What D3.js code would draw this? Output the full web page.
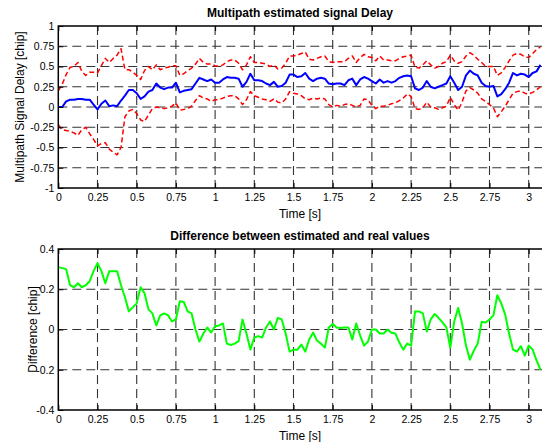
<!DOCTYPE html>
<html>
<head>
<meta charset="utf-8">
<script src="https://cdn.jsdelivr.net/npm/d3@7"></script>
<style>
body { margin: 0; background: #fff; }
svg text { font-family: "Liberation Sans", Arial, Helvetica, sans-serif; }
</style>
</head>
<body>
<div id="chart"></div>
<script>

/****** data (sampled every 0.025 s) ******/
var sampleStep = 0.025;

var delayEst = [
    0.00, 0.00, 0.07, 0.09, 0.09, 0.10, 0.10, 0.09, 0.09, 0.03,
    -0.03, 0.04, 0.08, 0.01, 0.02, 0.01, 0.08, 0.14, 0.21, 0.21,
    0.17, 0.10, 0.13, 0.19, 0.21, 0.29, 0.24, 0.22, 0.24, 0.24,
    0.30, 0.18, 0.20, 0.21, 0.22, 0.29, 0.36, 0.34, 0.32, 0.34,
    0.30, 0.30, 0.34, 0.37, 0.36, 0.36, 0.35, 0.25, 0.31, 0.41,
    0.33, 0.33, 0.32, 0.29, 0.27, 0.31, 0.25, 0.26, 0.30, 0.40,
    0.40, 0.37, 0.38, 0.42, 0.35, 0.32, 0.35, 0.36, 0.35, 0.29,
    0.28, 0.29, 0.29, 0.27, 0.33, 0.35, 0.27, 0.34, 0.37, 0.35,
    0.32, 0.29, 0.34, 0.30, 0.32, 0.30, 0.32, 0.36, 0.38, 0.39,
    0.38, 0.23, 0.21, 0.24, 0.32, 0.25, 0.23, 0.25, 0.27, 0.29,
    0.38, 0.30, 0.21, 0.25, 0.39, 0.45, 0.41, 0.39, 0.30, 0.26,
    0.25, 0.26, 0.13, 0.16, 0.22, 0.30, 0.42, 0.39, 0.41, 0.40,
    0.37, 0.42, 0.44, 0.52
];

var upperBound = [
    0.20, 0.28, 0.40, 0.49, 0.50, 0.55, 0.44, 0.39, 0.43, 0.43,
    0.42, 0.51, 0.60, 0.55, 0.60, 0.64, 0.72, 0.46, 0.46, 0.43,
    0.39, 0.34, 0.45, 0.50, 0.46, 0.52, 0.46, 0.48, 0.49, 0.51,
    0.51, 0.39, 0.41, 0.45, 0.48, 0.53, 0.60, 0.55, 0.53, 0.53,
    0.51, 0.50, 0.52, 0.56, 0.58, 0.58, 0.54, 0.46, 0.52, 0.62,
    0.55, 0.55, 0.54, 0.53, 0.50, 0.52, 0.47, 0.48, 0.54, 0.63,
    0.63, 0.64, 0.66, 0.68, 0.59, 0.58, 0.60, 0.62, 0.63, 0.56,
    0.55, 0.56, 0.56, 0.56, 0.60, 0.63, 0.55, 0.61, 0.65, 0.62,
    0.61, 0.57, 0.63, 0.58, 0.58, 0.57, 0.57, 0.60, 0.62, 0.63,
    0.64, 0.49, 0.48, 0.52, 0.57, 0.52, 0.48, 0.50, 0.54, 0.56,
    0.64, 0.57, 0.54, 0.56, 0.63, 0.67, 0.64, 0.59, 0.55, 0.50,
    0.50, 0.50, 0.39, 0.42, 0.49, 0.57, 0.64, 0.66, 0.65, 0.62,
    0.61, 0.66, 0.71, 0.74
];

var lowerBound = [
    -0.22, -0.28, -0.29, -0.30, -0.32, -0.35, -0.28, -0.25, -0.33, -0.40,
    -0.48, -0.45, -0.44, -0.52, -0.56, -0.59, -0.50, -0.12, -0.05, -0.03,
    -0.08, -0.16, -0.18, -0.10, -0.02, 0.00, -0.01, -0.02, -0.01, 0.01,
    0.05, -0.04, -0.03, -0.02, 0.01, 0.08, 0.14, 0.11, 0.10, 0.07,
    0.09, 0.09, 0.11, 0.13, 0.14, 0.14, 0.10, 0.03, 0.09, 0.19,
    0.14, 0.12, 0.10, 0.09, 0.07, 0.10, 0.06, 0.05, 0.10, 0.19,
    0.17, 0.16, 0.14, 0.10, 0.09, 0.11, 0.10, 0.11, 0.10, 0.03,
    0.00, 0.02, 0.01, 0.03, 0.04, 0.02, 0.00, 0.02, 0.10, 0.09,
    0.02, -0.02, 0.01, 0.01, 0.02, 0.04, 0.05, 0.08, 0.11, 0.16,
    0.13, -0.02, -0.03, -0.01, 0.06, 0.00, -0.01, -0.03, -0.01, 0.01,
    0.12, 0.03, -0.04, 0.06, 0.20, 0.24, 0.21, 0.17, 0.10, 0.07,
    0.03, -0.01, -0.12, -0.06, 0.01, 0.09, 0.17, 0.19, 0.20, 0.17,
    0.16, 0.18, 0.21, 0.25
];

var difference = [
    0.31, 0.305, 0.30, 0.22, 0.21, 0.23, 0.21, 0.22, 0.24, 0.29,
    0.33, 0.29, 0.23, 0.29, 0.29, 0.29, 0.22, 0.16, 0.09, 0.11,
    0.13, 0.21, 0.18, 0.10, 0.08, 0.02, 0.07, 0.08, 0.07, 0.04,
    0.05, 0.14, 0.137, 0.09, 0.08, 0.00, -0.06, -0.02, 0.01, -0.015,
    0.016, 0.02, 0.03, -0.07, -0.077, -0.07, -0.058, 0.05, -0.02, -0.10,
    -0.04, -0.033, -0.04, 0.01, 0.04, 0.00, 0.058, 0.05, -0.02, -0.11,
    -0.10, -0.10, -0.075, -0.11, -0.05, -0.015, -0.055, -0.07, -0.09, 0.01,
    0.028, 0.01, 0.008, 0.01, 0.01, -0.05, 0.03, -0.03, -0.08, -0.06,
    0.00, 0.00, -0.02, -0.02, 0.00, -0.016, -0.02, -0.065, -0.10, -0.07,
    -0.08, 0.09, 0.09, 0.08, -0.01, 0.05, 0.077, 0.058, 0.035, 0.01,
    -0.09, 0.04, 0.107, 0.03, -0.08, -0.15, -0.105, -0.07, 0.038, 0.035,
    0.05, 0.07, 0.17, 0.13, 0.074, -0.02, -0.10, -0.11, -0.083, -0.13,
    -0.08, -0.10, -0.153, -0.20
];

var time = delayEst.map(function (d, i) { return i * sampleStep; });

var xTicks = [0, 0.25, 0.5, 0.75, 1, 1.25, 1.5, 1.75, 2, 2.25, 2.5, 2.75, 3];
var xTickLabels = ["0", "0.25", "0.5", "0.75", "1", "1.25", "1.5", "1.75", "2", "2.25", "2.5", "2.75", "3"];
var delayTicks = [-1, -0.75, -0.5, -0.25, 0, 0.25, 0.5, 0.75, 1];
var delayTickLabels = ["-1", "-0.75", "-0.5", "-0.25", "0", "0.25", "0.5", "0.75", "1"];
var diffTicks = [-0.4, -0.2, 0, 0.2, 0.4];
var diffTickLabels = ["-0.4", "-0.2", "0", "0.2", "0.4"];

/****** layout ******/
var width = 542, height = 442;
var left = 58.3;
var x = d3.scaleLinear()
    .domain([0, 3.1])
    .range([left, left + 3.1 * 156.8]);

var svg = d3.select("#chart").append("svg")
    .attr("width", width)
    .attr("height", height)
    .style("display", "block");

svg.append("rect").attr("width", width).attr("height", height).attr("fill", "#fff");

function drawPanel(p) {
    var y = d3.scaleLinear().domain(p.domain).range([p.bottom, p.top]);
    var g = svg.append("g");
    var clipId = "clip-" + p.name;

    g.append("clipPath").attr("id", clipId)
        .append("rect")
        .attr("x", x(0)).attr("y", p.top)
        .attr("width", x.range()[1] - x(0)).attr("height", p.bottom - p.top);

    // dashed grid
    var grid = g.append("g").attr("stroke", "#333").attr("stroke-width", 1.1)
        .attr("stroke-dasharray", "9,5");
    grid.selectAll(".vg").data(xTicks.slice(1)).enter().append("line")
        .attr("x1", function (d) { return x(d); }).attr("x2", function (d) { return x(d); })
        .attr("y1", p.top).attr("y2", p.bottom);
    grid.selectAll(".hg").data(p.ticks.slice(1, -1)).enter().append("line")
        .attr("x1", x(0)).attr("x2", x.range()[1])
        .attr("y1", function (d) { return y(d); }).attr("y2", function (d) { return y(d); });

    // series
    var plot = g.append("g").attr("clip-path", "url(#" + clipId + ")");
    p.series.forEach(function (s) {
        var line = d3.line()
            .x(function (d, i) { return x(time[i]); })
            .y(function (d) { return y(d); });
        plot.append("path")
            .datum(s.values)
            .attr("fill", "none")
            .attr("stroke", s.color)
            .attr("stroke-width", s.width)
            .attr("stroke-dasharray", s.dash)
            .attr("stroke-linejoin", "round")
            .attr("d", line);
    });

    // axes, ticks inside
    g.append("g").attr("transform", "translate(0," + p.bottom + ")")
        .call(d3.axisBottom(x).tickValues(xTicks)
            .tickFormat(function (d, i) { return xTickLabels[i]; })
            .tickSizeInner(-5).tickSizeOuter(0).tickPadding(6));
    g.append("g").attr("transform", "translate(0," + p.top + ")")
        .call(d3.axisTop(x).tickValues(xTicks).tickFormat("")
            .tickSizeInner(-5).tickSizeOuter(0));
    g.append("g").attr("transform", "translate(" + x(0) + ",0)")
        .call(d3.axisLeft(y).tickValues(p.ticks)
            .tickFormat(function (d, i) { return p.labels[i]; })
            .tickSizeInner(-5).tickSizeOuter(0).tickPadding(4));
    g.selectAll(".domain").remove();
    g.selectAll(".tick text").attr("font-size", 10.5).attr("fill", "#000");
    g.selectAll("g[font-family]").attr("font-family", null);

    // box
    g.append("rect")
        .attr("x", x(0)).attr("y", p.top)
        .attr("width", x.range()[1] - x(0)).attr("height", p.bottom - p.top)
        .attr("fill", "none").attr("stroke", "#000").attr("stroke-width", 1.5);

    g.append("text")
        .attr("x", 300).attr("y", p.top - 9)
        .attr("text-anchor", "middle")
        .attr("font-size", 12).attr("font-weight", "bold")
        .text(p.title);
    g.append("text")
        .attr("x", 300).attr("y", p.bottom + 30)
        .attr("text-anchor", "middle")
        .attr("font-size", 12)
        .text("Time [s]");
    g.append("text")
        .attr("transform", "translate(" + p.ylabelX + "," + ((p.top + p.bottom) / 2) + ") rotate(-90)")
        .attr("text-anchor", "middle")
        .attr("dy", "0.35em")
        .attr("font-size", 12)
        .text(p.ylabel);
}

drawPanel({
    name: "delay", top: 26, bottom: 188, domain: [-1, 1],
    ticks: delayTicks, labels: delayTickLabels,
    title: "Multipath estimated signal Delay",
    ylabel: "Multipath Signal Delay [chip]", ylabelX: 20,
    series: [
        {values: upperBound, color: "#ff0000", width: 1.5, dash: "5,3"},
        {values: lowerBound, color: "#ff0000", width: 1.5, dash: "5,3"},
        {values: delayEst, color: "#0000ff", width: 2, dash: null}
    ]
});

drawPanel({
    name: "diff", top: 249, bottom: 410, domain: [-0.4, 0.4],
    ticks: diffTicks, labels: diffTickLabels,
    title: "Difference between estimated and real values",
    ylabel: "Difference [chip]", ylabelX: 33,
    series: [
        {values: difference, color: "#00ff00", width: 2, dash: null}
    ]
});

</script>
</body>
</html>
